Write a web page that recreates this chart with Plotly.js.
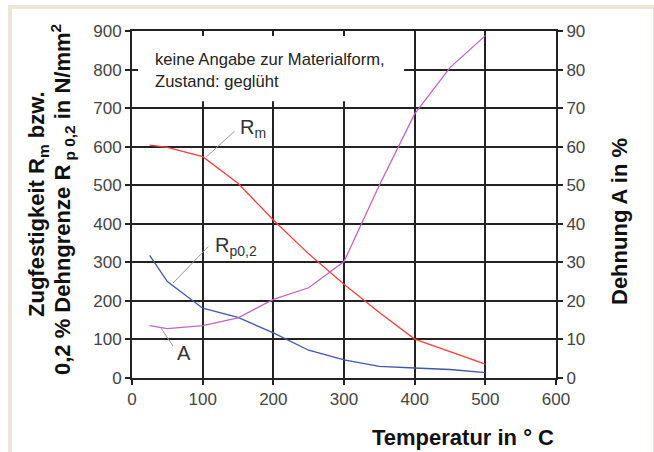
<!DOCTYPE html>
<html>
<head>
<meta charset="utf-8">
<script src="https://cdn.plot.ly/plotly-3.0.1.min.js"></script>
<style>
  html, body { margin: 0; padding: 0; background: #ffffff; }
  #frame { position: absolute; left: 8px; top: 5px; width: 641px; height: 470px;
           border-left: 4px solid #efe4da; border-top: 4px solid #efe4da; border-right: 4px solid #efe4da; }
  #chart { position: absolute; left: 0; top: 0; width: 654px; height: 452px; }
</style>
</head>
<body>
<div id="frame"></div>
<div id="chart"></div>
<script>
// Temperature (°C)
const temps = [25, 50, 100, 150, 200, 250, 300, 350, 400, 450, 500];
// Zugfestigkeit Rm (N/mm²)
const rm = [604, 598, 574, 505, 410, 322, 243, 170, 101, 68, 36];
// 0,2 % Dehngrenze Rp0,2 (N/mm²)
const rp = [318, 250, 181, 157, 117, 72, 47, 30, 26, 22, 14];
// Dehnung A (%)
const dehnung = [13.6, 12.8, 13.6, 15.6, 20.4, 23.4, 30.2, 50, 68.5, 80.5, 88.8];

const xTicks = [0, 100, 200, 300, 400, 500, 600];
const yTicks = [0, 100, 200, 300, 400, 500, 600, 700, 800, 900];
const y2Ticks = [0, 10, 20, 30, 40, 50, 60, 70, 80, 90];

const tickFont = {family: '"Liberation Sans Narrow", "Arial Narrow", "Liberation Sans", Arial, sans-serif', size: 17, color: '#444'};
const titleFont = {family: '"Liberation Sans", Arial, sans-serif', size: 22, color: '#111'};
const labelFont = {family: '"Liberation Sans", Arial, sans-serif', size: 20, color: '#333'};

const traces = [
  {x: temps, y: rm, type: 'scatter', mode: 'lines', line: {color: '#ff3b3b', width: 1.3}, yaxis: 'y', hoverinfo: 'skip'},
  {x: temps, y: rp, type: 'scatter', mode: 'lines', line: {color: '#3f58a8', width: 1.3}, yaxis: 'y', hoverinfo: 'skip'},
  {x: temps, y: dehnung, type: 'scatter', mode: 'lines', line: {color: '#c464c4', width: 1.3}, yaxis: 'y2', hoverinfo: 'skip'}
];

const gridColor = '#222';
const layout = {
  width: 654, height: 452,
  margin: {l: 132, r: 98, t: 31, b: 74, pad: 0},
  paper_bgcolor: 'rgba(0,0,0,0)',
  plot_bgcolor: '#ffffff',
  showlegend: false,
  xaxis: {
    range: [0, 600], tickvals: xTicks, ticktext: xTicks.map(String),
    showgrid: true, gridcolor: gridColor, gridwidth: 2,
    showline: true, linecolor: gridColor, linewidth: 2, mirror: true,
    ticks: 'outside', ticklen: 5, tickcolor: gridColor, tickwidth: 2,
    tickfont: tickFont, zeroline: false, fixedrange: true
  },
  yaxis: {
    range: [0, 900], tickvals: yTicks, ticktext: yTicks.map(String),
    showgrid: true, gridcolor: gridColor, gridwidth: 2,
    showline: true, linecolor: gridColor, linewidth: 2, mirror: true,
    ticks: 'outside', ticklen: 5, tickcolor: gridColor, tickwidth: 2,
    tickfont: tickFont, zeroline: false, fixedrange: true
  },
  yaxis2: {
    range: [0, 90], tickvals: y2Ticks, ticktext: y2Ticks.map(String),
    overlaying: 'y', side: 'right', showgrid: false,
    showline: true, linecolor: gridColor, linewidth: 2,
    ticks: 'outside', ticklen: 5, tickcolor: gridColor, tickwidth: 2,
    tickfont: tickFont, zeroline: false, fixedrange: true
  },
  shapes: [
    // white box behind the note
    {type: 'rect', xref: 'x', yref: 'y', x0: 8.5, x1: 385, y0: 718, y1: 887,
     fillcolor: '#ffffff', line: {width: 0}, layer: 'above'},
    // leader lines
    {type: 'line', xref: 'x', yref: 'y', x0: 105, y0: 573, x1: 145, y1: 640, line: {color: '#999', width: 1}},
    {type: 'line', xref: 'x', yref: 'y', x0: 58, y0: 246, x1: 108, y1: 341, line: {color: '#999', width: 1}},
    {type: 'line', xref: 'x', yref: 'y', x0: 41, y0: 130, x1: 58, y1: 83, line: {color: '#999', width: 1}}
  ],
  annotations: [
    {xref: 'paper', yref: 'paper', x: (153 - 132) / 424, y: (378 - 48) / 347, xanchor: 'left', yanchor: 'top',
     align: 'left', showarrow: false,
     text: 'keine Angabe zur Materialform,<br>Zustand: geglüht',
     font: {family: '"Liberation Sans", Arial, sans-serif', size: 16.6, color: '#222'}},
    {xref: 'x', yref: 'y', x: 150, y: 646, xanchor: 'left', yanchor: 'middle', showarrow: false,
     text: 'R<sub>m</sub>', font: labelFont},
    {xref: 'x', yref: 'y', x: 114, y: 340, xanchor: 'left', yanchor: 'middle', showarrow: false,
     text: 'R<sub>p0,2</sub>', font: labelFont},
    {xref: 'x', yref: 'y', x: 61, y: 65, xanchor: 'left', yanchor: 'middle', showarrow: false,
     text: 'A', font: labelFont},
    // axis titles
    {xref: 'paper', yref: 'paper', x: (38 - 132) / 424, y: (378 - 204) / 347, xanchor: 'center', yanchor: 'middle',
     textangle: -90, showarrow: false, text: '<b>Zugfestigkeit R<sub>m</sub> bzw.</b>', font: titleFont},
    {xref: 'paper', yref: 'paper', x: (62 - 132) / 424, y: (378 - 200) / 347, xanchor: 'center', yanchor: 'middle',
     textangle: -90, showarrow: false, text: '<b>0,2 % Dehngrenze R<sub> p 0,2</sub> in N/mm<sup>2</sup></b>', font: titleFont},
    {xref: 'paper', yref: 'paper', x: (619 - 132) / 424, y: (378 - 222) / 347, xanchor: 'center', yanchor: 'middle',
     textangle: -90, showarrow: false, text: '<b>Dehnung A in %</b>', font: titleFont},
    {xref: 'paper', yref: 'paper', x: 1.0, y: (378 - 437) / 347, xanchor: 'right', yanchor: 'middle',
     showarrow: false, text: '<b>Temperatur in ° C</b>', font: titleFont}
  ]
};

Plotly.newPlot('chart', traces, layout, {staticPlot: true, displayModeBar: false});
</script>
</body>
</html>
